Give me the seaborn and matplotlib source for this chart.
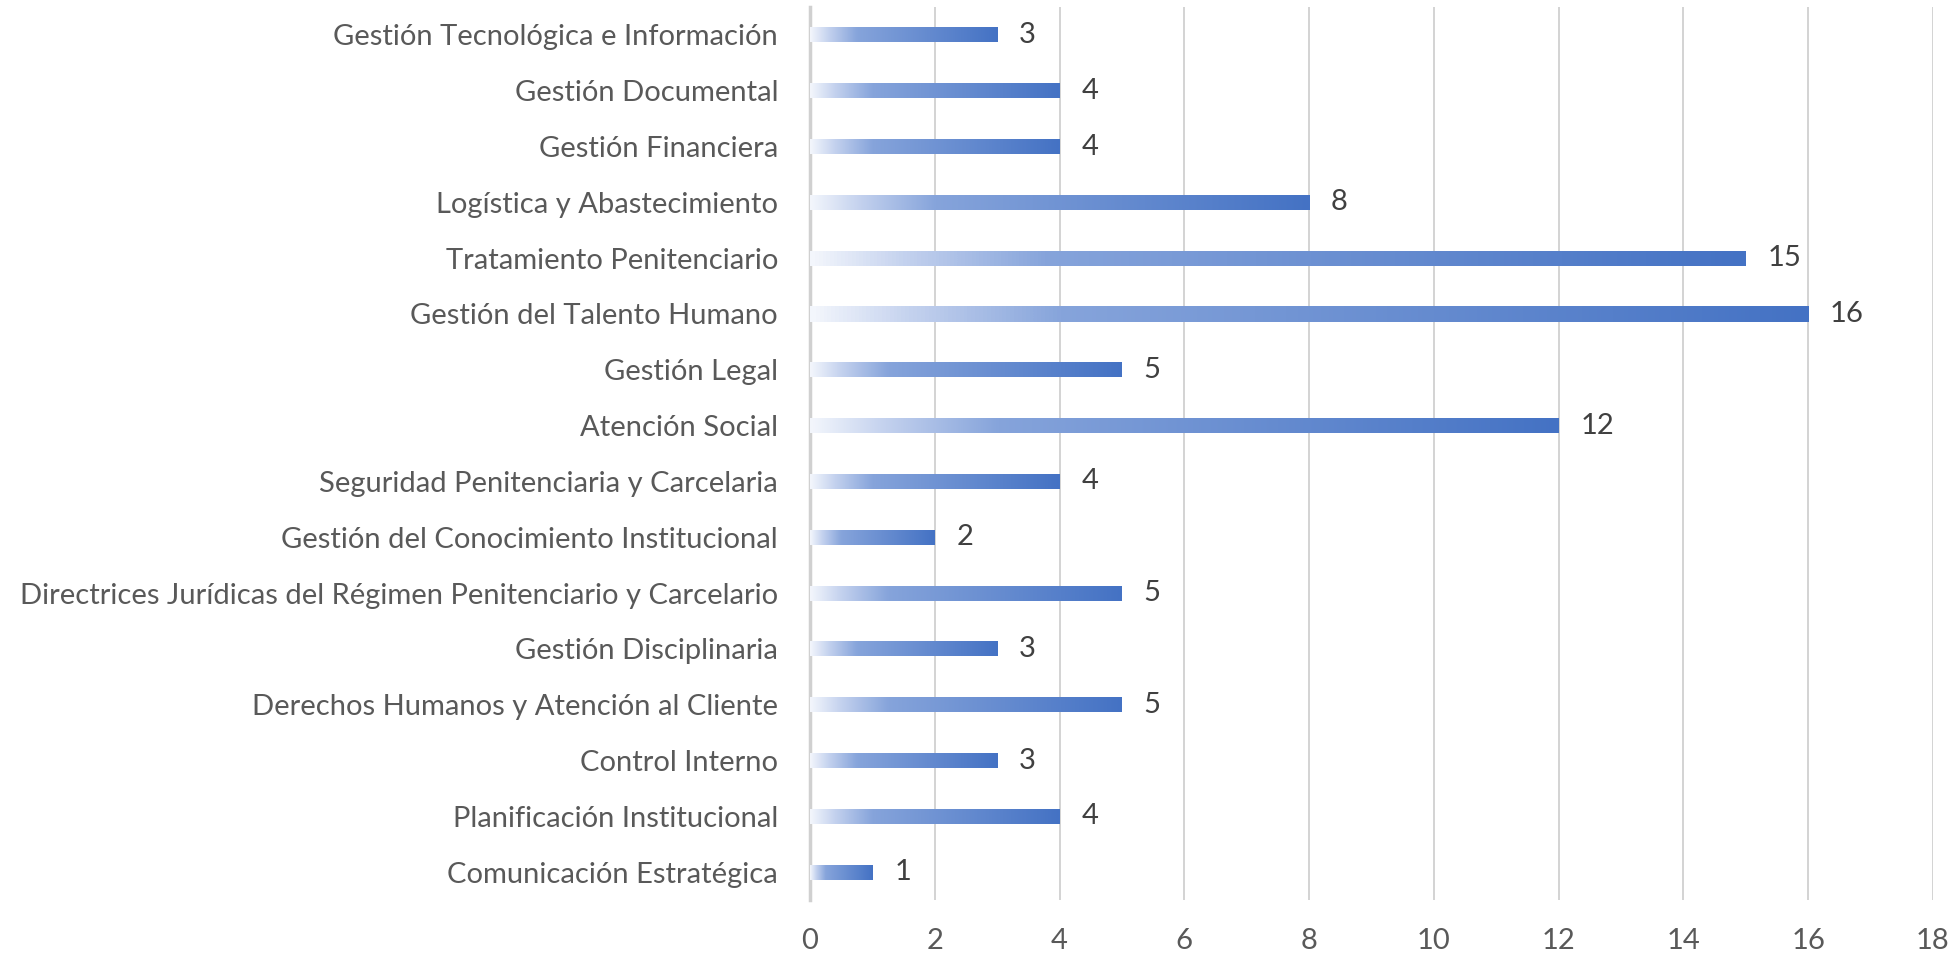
import numpy as np
import pandas as pd
import matplotlib
matplotlib.use("Agg")
import matplotlib.pyplot as plt
from matplotlib.colors import LinearSegmentedColormap
import seaborn as sns

categorias = [
    "Gestión Tecnológica e Información",
    "Gestión Documental",
    "Gestión Financiera",
    "Logística y Abastecimiento",
    "Tratamiento Penitenciario",
    "Gestión del Talento Humano",
    "Gestión Legal",
    "Atención Social",
    "Seguridad Penitenciaria y Carcelaria",
    "Gestión del Conocimiento Institucional",
    "Directrices Jurídicas del Régimen Penitenciario y Carcelario",
    "Gestión Disciplinaria",
    "Derechos Humanos y Atención al Cliente",
    "Control Interno",
    "Planificación Institucional",
    "Comunicación Estratégica",
]
valores = [3, 4, 4, 8, 15, 16, 5, 12, 4, 2, 5, 3, 5, 3, 4, 1]
x_ticks = list(range(0, 19, 2))

TEXT = "#595959"
GRID = "#d0d0d0"
BLUE = "#4472C4"

df = pd.DataFrame({"cat": categorias, "val": valores})

sns.set_theme(style="white")
plt.rcParams["font.family"] = ["Lato", "DejaVu Sans"]

fig = plt.figure(figsize=(19.59, 9.58), dpi=100)
ax = fig.add_axes([0.4135, 0.0605, 0.5732, 0.9322])

sns.barplot(data=df, y="cat", x="val", orient="h", color=BLUE, width=0.27, ax=ax, zorder=3)

grad = LinearSegmentedColormap.from_list(
    "g", [(0.0, "#f3f6fc"), (0.1, "#c3d1ee"), (0.25, "#86a4db"), (1.0, BLUE)])
ramp = np.linspace(0, 1, 256).reshape(1, -1)
for p in ax.patches:
    x0, y0 = p.get_x(), p.get_y()
    w, h = p.get_width(), p.get_height()
    p.set_facecolor("none")
    p.set_edgecolor("none")
    im = ax.imshow(ramp, cmap=grad, extent=[x0, x0 + w, y0 + h, y0],
                   aspect="auto", zorder=3, interpolation="bicubic")
    im.set_clip_path(p)
    ax.text(x0 + w + 0.35, y0 + h / 2, f"{int(w)}", va="center", ha="left",
            fontsize=21, color="#404040", zorder=4)

ax.set_xlim(0, 18)
ax.set_ylim(len(categorias) - 0.5, -0.5)
ax.set_xticks(x_ticks)
ax.xaxis.grid(True, color=GRID, linewidth=1.3, zorder=0)
ax.set_axisbelow(True)
ax.set_xlabel("")
ax.set_ylabel("")
for s in ["top", "right", "bottom"]:
    ax.spines[s].set_visible(False)
ax.spines["left"].set_color(GRID)
ax.spines["left"].set_linewidth(2.5)
ax.tick_params(axis="y", length=0, pad=23, labelsize=21, labelcolor=TEXT)
ax.tick_params(axis="x", length=0, pad=20, labelsize=21, labelcolor=TEXT)

fig.savefig("out.png", dpi=100, facecolor="white")
